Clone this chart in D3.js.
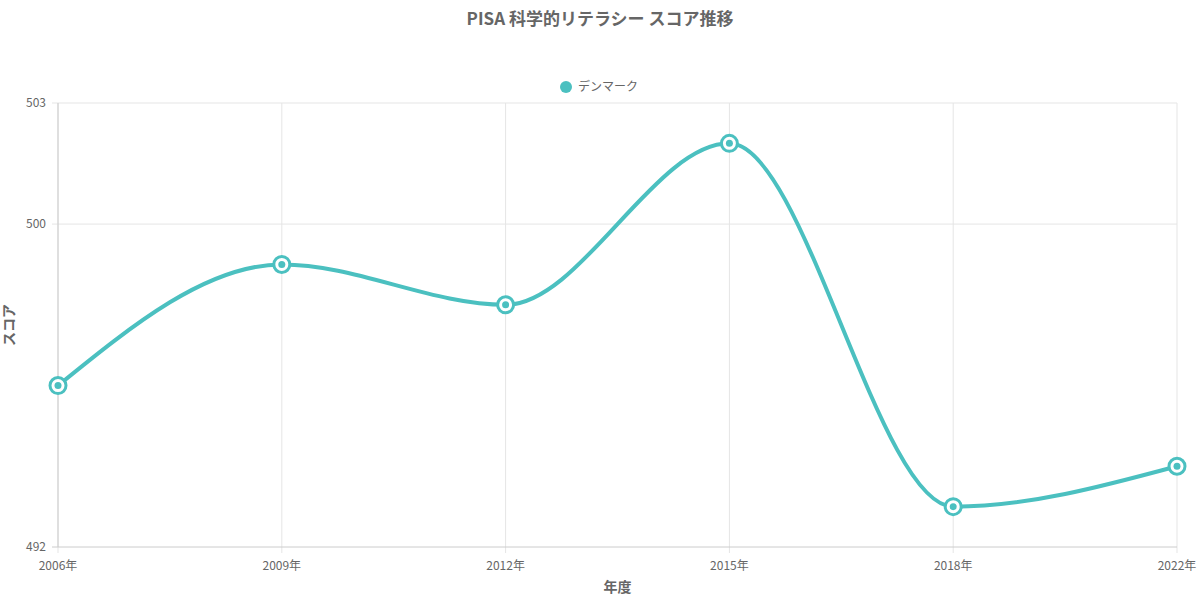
<!DOCTYPE html>
<html>
<head>
<meta charset="utf-8">
<script src="https://d3js.org/d3.v7.min.js"></script>
<style>
  body { margin: 0; background: #fff; }
  text { font-family: "Noto Sans CJK JP", "Noto Sans", sans-serif; fill: #666; }
</style>
</head>
<body>
<svg width="1200" height="601"></svg>
<script>
const years = ["2006年", "2009年", "2012年", "2015年", "2018年", "2022年"];
const scores = [496, 499, 498, 502, 493, 494];
const yTicks = [492, 500, 503];
const seriesName = "デンマーク";
const color = "#4bc0c0";

const svg = d3.select("svg");
const plotL = 58, plotR = 1177, plotT = 103, plotB = 547;

const x = d3.scalePoint().domain(years).range([plotL, plotR]);
const y = d3.scaleLinear().domain([492, 503]).range([plotB, plotT]);

// grid
svg.append("g").selectAll("line").data(years).join("line")
  .attr("x1", d => x(d)).attr("x2", d => x(d))
  .attr("y1", plotT).attr("y2", plotB + 6)
  .attr("stroke", "#e5e5e5");
svg.append("g").selectAll("line").data(yTicks).join("line")
  .attr("x1", plotL - 6).attr("x2", plotR)
  .attr("y1", d => y(d)).attr("y2", d => y(d))
  .attr("stroke", d => d === 492 ? "#ccc" : "#e5e5e5");
svg.append("line").attr("x1", plotL).attr("x2", plotL)
  .attr("y1", plotT).attr("y2", plotB).attr("stroke", "#ccc");

// tick labels
svg.append("g").selectAll("text").data(yTicks).join("text")
  .attr("x", plotL - 12).attr("y", d => y(d) + 4)
  .attr("text-anchor", "end").attr("font-size", 12).text(d => d);
svg.append("g").selectAll("text").data(years).join("text")
  .attr("x", d => x(d)).attr("y", plotB + 23)
  .attr("text-anchor", "middle").attr("font-size", 12).text(d => d);

// titles
svg.append("text").attr("x", 600).attr("y", 25).attr("text-anchor", "middle")
  .attr("font-size", 17).attr("font-weight", "bold").text("PISA 科学的リテラシー スコア推移");
svg.append("text").attr("x", (plotL + plotR) / 2).attr("y", 592).attr("text-anchor", "middle")
  .attr("font-size", 14).attr("font-weight", "bold").text("年度");
svg.append("text").attr("transform", `translate(14,${(plotT + plotB) / 2}) rotate(-90)`)
  .attr("text-anchor", "middle").attr("font-size", 14).attr("font-weight", "bold").text("スコア");

// legend
svg.append("circle").attr("cx", 566).attr("cy", 87).attr("r", 6).attr("fill", color);
svg.append("text").attr("x", 578).attr("y", 91).attr("font-size", 12).text(seriesName);

// line
const pts = years.map((d, i) => [x(d), y(scores[i])]);
svg.append("path").datum(pts)
  .attr("d", d3.line().curve(d3.curveMonotoneX))
  .attr("fill", "none").attr("stroke", color).attr("stroke-width", 4);

const g = svg.append("g").selectAll("g").data(pts).join("g")
  .attr("transform", d => `translate(${d[0]},${d[1]})`);
g.append("circle").attr("r", 8).attr("fill", "#fff").attr("stroke", color).attr("stroke-width", 3);
g.append("circle").attr("r", 3.5).attr("fill", color);
</script>
</body>
</html>
